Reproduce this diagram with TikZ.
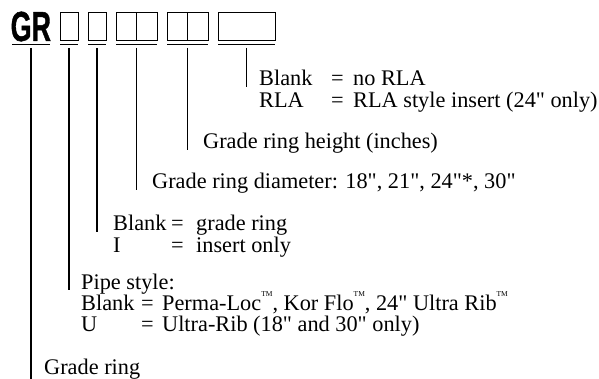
\documentclass[tikz,border=0pt]{standalone}
\usepackage{fontspec}
\setmainfont{Liberation Serif}[Ligatures=TeXOff]
\newfontfamily\grfont{Liberation Sans}[FakeBold=1.2]
\newcommand\inq{"}
\newcommand\tmk{\raisebox{0.62em}{\fontsize{7.5}{7.5}\selectfont TM}}
\begin{document}
\begin{tikzpicture}[x=1pt,y=-1pt,
  txt/.style={anchor=base west,inner sep=0pt,font=\fontsize{22.3}{22.3}\selectfont},
  boxline/.style={line width=0.9pt},
  uline/.style={line width=1.3pt},
  lead/.style={line width=1.2pt}]
\useasboundingbox (0,0) rectangle (599,379);
% code letters
\node[anchor=base west,inner sep=0pt,font=\grfont\bfseries\fontsize{42}{42}\selectfont] (gr) at (10.5,41) {\scalebox{0.64}[1]{GR}};
\draw[boxline] (60,12.3) rectangle (78,40);
\draw[boxline] (88,12.3) rectangle (106,40);
\draw[boxline] (116,12.3) rectangle (136.5,40);
\draw[boxline] (136.5,12.3) rectangle (157,40);
\draw[boxline] (167,12.3) rectangle (187.5,40);
\draw[boxline] (187.5,12.3) rectangle (208,40);
\draw[boxline] (218,12.3) rectangle (275,40);
% underlines
\draw[uline] (12,44.3) -- (50,44.3);
\draw[uline] (60,44.3) -- (78,44.3);
\draw[uline] (88,44.3) -- (106,44.3);
\draw[uline] (116,44.3) -- (157,44.3);
\draw[uline] (167,44.3) -- (208,44.3);
\draw[uline] (218,44.3) -- (275,44.3);
% leader start/end points
\coordinate (s0) at (31,48);   \coordinate (e0) at (31,379);
\coordinate (s1) at (69,48);   \coordinate (e1) at (69,290);
\coordinate (s2) at (97,48);   \coordinate (e2) at (97,232);
\coordinate (s3) at (136.5,48);\coordinate (e3) at (136.5,190);
\coordinate (s5) at (187.5,48);\coordinate (e5) at (187.5,150);
\coordinate (s7) at (246.5,48);\coordinate (e7) at (246.5,87);
\foreach \i in {0,1,2,3,5,7} \draw[lead] (s\i) -- (e\i);
% texts
\node[txt] (t7a) at (259,86) {\makebox[72pt][l]{Blank}\makebox[22pt][l]{=}no RLA};
\node[txt] (t7b) at (259,108) {\makebox[72pt][l]{RLA}\makebox[22pt][l]{=}RLA style insert (24\inq{} only)};
\node[txt] (t5) at (203,149) {Grade ring height (inches)};
\node[txt] (t3) at (152,189) {Grade ring diameter: 18\inq, 21\inq, 24\inq*, 30\inq};
\node[txt] (t2a) at (113,230) {\makebox[58pt][l]{Blank}\makebox[25pt][l]{=}grade ring};
\node[txt] (t2b) at (113,252) {\makebox[58pt][l]{I}\makebox[25pt][l]{=}insert only};
\node[txt] (t1a) at (81,289) {Pipe style:};
\node[txt] (t1b) at (81,310) {\makebox[60pt][l]{Blank}\makebox[21pt][l]{=}Perma-Loc\tmk, Kor Flo\tmk, 24\inq{} Ultra Rib\tmk};
\node[txt] (t1c) at (81,331) {\makebox[60pt][l]{U}\makebox[21pt][l]{=}Ultra-Rib (18\inq{} and 30\inq{} only)};
\node[txt] (t0) at (44,374) {Grade ring};
\end{tikzpicture}
\end{document}
